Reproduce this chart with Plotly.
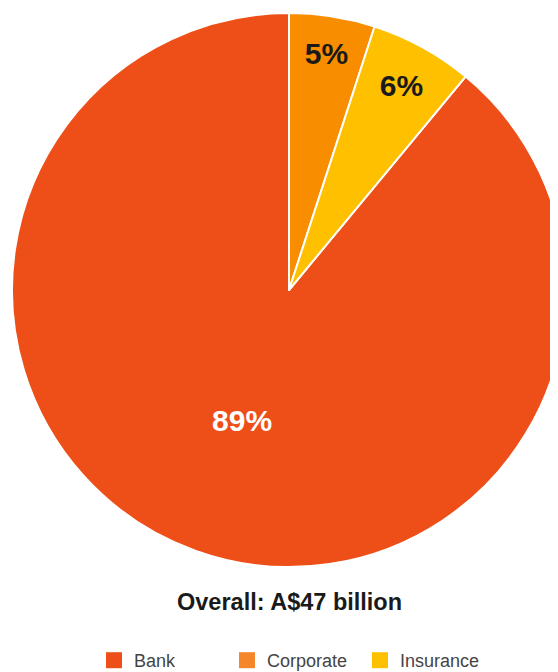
import plotly.graph_objects as go

labels = ["Bank", "Corporate", "Insurance"]
values = [89, 5, 6]
colors = ["#EE4E17", "#F98D00", "#FFC000"]
legend_colors = ["#EE4E17", "#F5862A", "#FFC000"]
text_colors = ["#FFFFFF", "#1A1A1A", "#1A1A1A"]
title_text = "Overall: A$47 billion"

# start Bank right after the other slices so Corporate begins at 12 o'clock
rotation = 360 * (values[1] + values[2]) / sum(values)

W, H = 590, 672
PLOT_H = 568

fig = go.Figure()
fig.add_trace(go.Pie(
    labels=labels,
    values=values,
    sort=False,
    direction="clockwise",
    rotation=rotation,
    marker=dict(colors=colors, line=dict(color="white", width=2)),
    textinfo="percent",
    textposition="inside",
    insidetextorientation="horizontal",
    insidetextfont=dict(family="Liberation Sans, Arial", size=30, color=text_colors, weight="bold"),
    hoverinfo="label+percent",
    showlegend=False,
    domain=dict(x=[4 / W, 558 / W], y=[9 / PLOT_H, 563 / PLOT_H]),
))

# legend entries (larger square swatches than the pie legend allows)
for lab, col in zip(labels, legend_colors):
    fig.add_trace(go.Scatter(x=[None], y=[None], mode="markers", name=lab,
                             marker=dict(symbol="square", size=16, color=col),
                             hoverinfo="skip"))

fig.update_layout(
    width=W, height=H,
    margin=dict(l=0, r=0, t=0, b=H - PLOT_H),
    paper_bgcolor="white",
    plot_bgcolor="white",
    font=dict(family="Liberation Sans, Arial", color="#333"),
    showlegend=True,
    xaxis=dict(visible=False),
    yaxis=dict(visible=False),
    legend=dict(orientation="h", x=86 / W, xanchor="left",
                yref="container", y=1 - 634 / H, yanchor="top",
                font=dict(size=18, color="#444"), entrywidth=88, traceorder="normal"),
    annotations=[dict(text="<b>" + title_text + "</b>", x=281 / W, xref="paper",
                      y=1 - 594 / PLOT_H, yref="paper", yanchor="middle", showarrow=False,
                      font=dict(size=23.5, color="#1A1A1A"))],
)

fig.write_html("out.html")
